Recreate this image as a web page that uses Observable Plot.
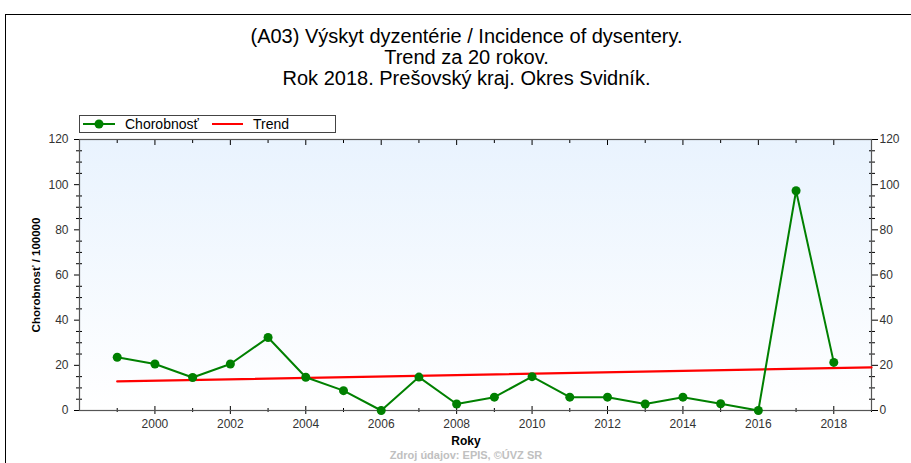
<!DOCTYPE html>
<html><head><meta charset="utf-8">
<script src="https://cdn.jsdelivr.net/npm/d3@7"></script>
<script src="https://cdn.jsdelivr.net/npm/@observablehq/plot@0.6"></script>
<style>
html,body{margin:0;padding:0;background:#fff;overflow:hidden;width:911px;height:463px}
#wrap{position:relative;width:911px;height:463px;overflow:hidden;font-family:"Liberation Sans",Arial,sans-serif}
#frame{position:absolute;left:5px;top:14px;width:1000px;height:1000px;border-left:1px solid #000;border-top:1px solid #000;box-sizing:border-box}
#chart{position:absolute;left:0;top:0}
#title{position:absolute;left:0;width:933px;top:26px;text-align:center;font-size:20px;line-height:21px;color:#000}
#legend{position:absolute;left:79px;top:115px}
#ylab{position:absolute;left:36px;top:275px;transform:translate(-50%,-50%) rotate(-90deg);font-weight:bold;font-size:11.5px;white-space:nowrap;color:#000}
#xlab{position:absolute;left:466px;top:441px;transform:translate(-50%,-50%);font-weight:bold;font-size:12px;color:#000}
#footer{position:absolute;left:466px;top:449px;transform:translateX(-50%);font-weight:bold;font-size:11px;line-height:13px;color:#c0c0c0;white-space:nowrap}
</style>
</head><body>
<div id="wrap">
  <div id="frame"></div>
  <div id="chart"></div>
  <div id="title"></div>
  <svg id="legend" width="257" height="18"></svg>
  <div id="ylab"></div>
  <div id="xlab"></div>
  <div id="footer"></div>
</div>
<script>
// ---- data ----
const titleLines = ["(A03) Výskyt dyzentérie / Incidence of dysentery.", "Trend za 20 rokov.", "Rok 2018. Prešovský kraj. Okres Svidník."];
const years = [1999,2000,2001,2002,2003,2004,2005,2006,2007,2008,2009,2010,2011,2012,2013,2014,2015,2016,2017,2018];
const incidence = [23.6,20.6,14.6,20.6,32.3,14.7,8.8,0,14.8,2.9,5.9,15.0,5.9,5.9,2.9,5.9,3.0,0,97.3,21.3];
const trendYears = [1999, 2019];
const trendValues = [12.9, 19.1];
const yMajorTicks = [0,20,40,60,80,100,120];
const yMinorTicks = [5,10,15,25,30,35,45,50,55,65,70,75,85,90,95,105,110,115];
const xMajorTicks = [2000,2002,2004,2006,2008,2010,2012,2014,2016,2018];
const xMinorTicks = [1999,2001,2003,2005,2007,2009,2011,2013,2015,2017,2019];
const seriesName = "Chorobnosť";
const trendName = "Trend";
const yLabel = "Chorobnosť / 100000";
const xLabel = "Roky";
const footerText = "Zdroj údajov: EPIS, ©ÚVZ SR";

const green = "#008000", red = "#ff0000", axisColor = "#555";

document.getElementById("title").innerHTML = titleLines.map(t => `<div>${t}</div>`).join("");
document.getElementById("ylab").textContent = yLabel;
document.getElementById("xlab").textContent = xLabel;
document.getElementById("footer").textContent = footerText;

// legend
const lg = d3.select("#legend");
lg.append("rect").attr("x",0.5).attr("y",0.5).attr("width",256).attr("height",17).attr("fill","#fff").attr("stroke","#444");
lg.append("line").attr("x1",4).attr("x2",36).attr("y1",9).attr("y2",9).attr("stroke",green).attr("stroke-width",2);
lg.append("circle").attr("cx",20).attr("cy",9).attr("r",4.5).attr("fill",green);
lg.append("text").attr("x",46).attr("y",14).attr("font-size",14).attr("font-family","Liberation Sans, Arial, sans-serif").text(seriesName);
lg.append("line").attr("x1",133).attr("x2",164).attr("y1",9).attr("y2",9).attr("stroke",red).attr("stroke-width",2);
lg.append("text").attr("x",174).attr("y",14).attr("font-size",14).attr("font-family","Liberation Sans, Arial, sans-serif").text(trendName);

const data = years.map((y,i) => ({year: y, value: incidence[i]}));
const trend = trendYears.map((y,i) => ({year: y, value: trendValues[i]}));

const defs = () => {
  const g = d3.create("svg:defs");
  const grad = g.append("linearGradient").attr("id","bgGrad").attr("x1",0).attr("y1",0).attr("x2",0).attr("y2",1);
  grad.append("stop").attr("offset","0%").attr("stop-color","#e9f3fe");
  grad.append("stop").attr("offset","100%").attr("stop-color","#ffffff");
  return g.node();
};

const chart = Plot.plot({
  width: 911, height: 463,
  marginLeft: 79, marginRight: 40, marginTop: 139, marginBottom: 53,
  style: {background: "transparent", fontFamily: "Liberation Sans, Arial, sans-serif", fontSize: "12px", color: "#333", overflow: "visible"},
  x: {domain: [1998, 2019], label: null},
  y: {domain: [0, 120], label: null},
  marks: [
    defs,
    Plot.frame({fill: "url(#bgGrad)", stroke: null}),
    // left axis
    Plot.axisY({anchor: "left", ticks: yMajorTicks, tickSize: 5, tickPadding: 6, stroke: "#000", label: null}),
    Plot.axisY({anchor: "left", ticks: yMinorTicks, tickSize: 6, dx: 3, text: null, stroke: "#000", label: null}),
    // right axis
    Plot.axisY({anchor: "right", ticks: yMajorTicks, tickSize: 6, tickPadding: 2, stroke: "#000", label: null}),
    Plot.axisY({anchor: "right", ticks: yMinorTicks, tickSize: 6, dx: -3, text: null, stroke: "#000", label: null}),
    // bottom axis
    Plot.axisX({anchor: "bottom", ticks: xMajorTicks, tickSize: 4, tickPadding: 5, tickFormat: "d", stroke: "#000", label: null}),
    Plot.axisX({anchor: "bottom", ticks: xMajorTicks, tickSize: 4, dy: -4, text: null, stroke: "#000", label: null}),
    Plot.axisX({anchor: "bottom", ticks: xMinorTicks, tickSize: 4, dy: -2, text: null, stroke: "#000", label: null}),
    // top axis (inward ticks)
    Plot.axisX({anchor: "top", ticks: xMajorTicks, tickSize: 5, dy: 5, text: null, stroke: "#000", label: null}),
    Plot.axisX({anchor: "top", ticks: xMinorTicks, tickSize: 3, dy: 3, text: null, stroke: "#000", label: null}),
    Plot.frame({stroke: axisColor, strokeWidth: 1.2}),
    Plot.line(trend, {x: "year", y: "value", stroke: red, strokeWidth: 2.2}),
    Plot.line(data, {x: "year", y: "value", stroke: green, strokeWidth: 2}),
    Plot.dot(data, {x: "year", y: "value", r: 4.5, fill: green, stroke: null})
  ]
});
document.getElementById("chart").appendChild(chart);
</script>
</body></html>
